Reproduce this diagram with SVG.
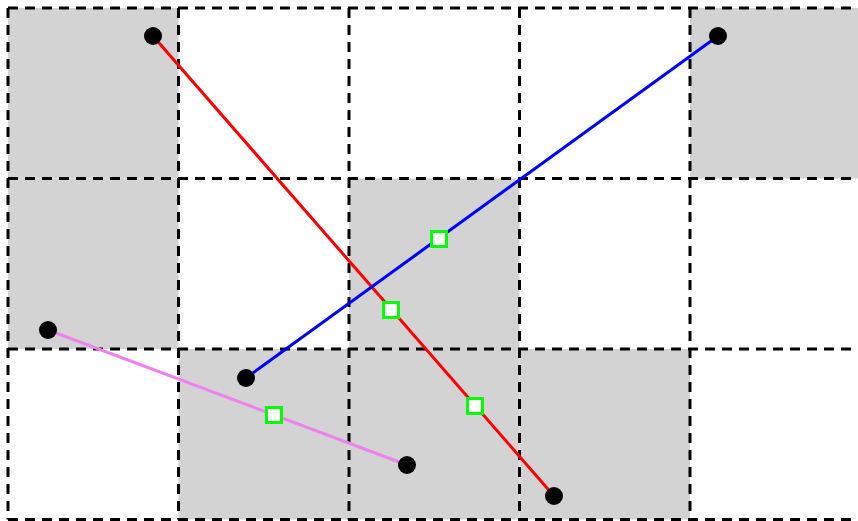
<svg xmlns="http://www.w3.org/2000/svg" width="858" height="521" viewBox="0 0 858 521">
<style>
.gray{fill:#d3d3d3}
.grid{fill:none;stroke:#000;stroke-width:3;stroke-dasharray:10,7}
.pt{fill:#000}
.mk{fill:#fff;stroke:#00ff00;stroke-width:3}
.ln{fill:none;stroke-width:3}
</style>
<rect width="858" height="521" fill="#fff"/>
<g id="cells">
<rect class="gray" x="8" y="8" width="170.5" height="170.5"/>
<rect class="gray" x="690" y="8" width="170.5" height="170.5"/>
<rect class="gray" x="8" y="178.5" width="170.5" height="170.5"/>
<rect class="gray" x="349" y="178.5" width="170.5" height="170.5"/>
<rect class="gray" x="178.5" y="349" width="170.5" height="170.5"/>
<rect class="gray" x="349" y="349" width="170.5" height="170.5"/>
<rect class="gray" x="519.5" y="349" width="170.5" height="170.5"/>
</g>
<g id="grid">
<path class="grid" d="M8,8H860 M8,178.5H860 M8,349H860 M8,519.5H860 M8,8V519.5 M178.5,8V519.5 M349,8V519.5 M519.5,8V519.5 M690,8V519.5"/>
</g>
<g id="connectors">
<line class="ln" stroke="#ff0000" x1="153" y1="36" x2="554" y2="496"/>
<line class="ln" stroke="#0000ff" x1="718" y1="36" x2="246" y2="378"/>
<line class="ln" stroke="#ee82ee" x1="48" y1="330" x2="407" y2="465"/>
</g>
<g id="points">
<circle class="pt" cx="153" cy="36" r="9"/>
<circle class="pt" cx="554" cy="496" r="9"/>
<circle class="pt" cx="718" cy="36" r="9"/>
<circle class="pt" cx="246" cy="378" r="9"/>
<circle class="pt" cx="48" cy="330" r="9"/>
<circle class="pt" cx="407" cy="465" r="9"/>
</g>
<g id="markers">
<rect class="mk" x="431.5" y="231.5" width="15" height="15"/>
<rect class="mk" x="383.5" y="302.5" width="15" height="15"/>
<rect class="mk" x="467.5" y="398.5" width="15" height="15"/>
<rect class="mk" x="266.5" y="407.5" width="15" height="15"/>
</g>
</svg>
